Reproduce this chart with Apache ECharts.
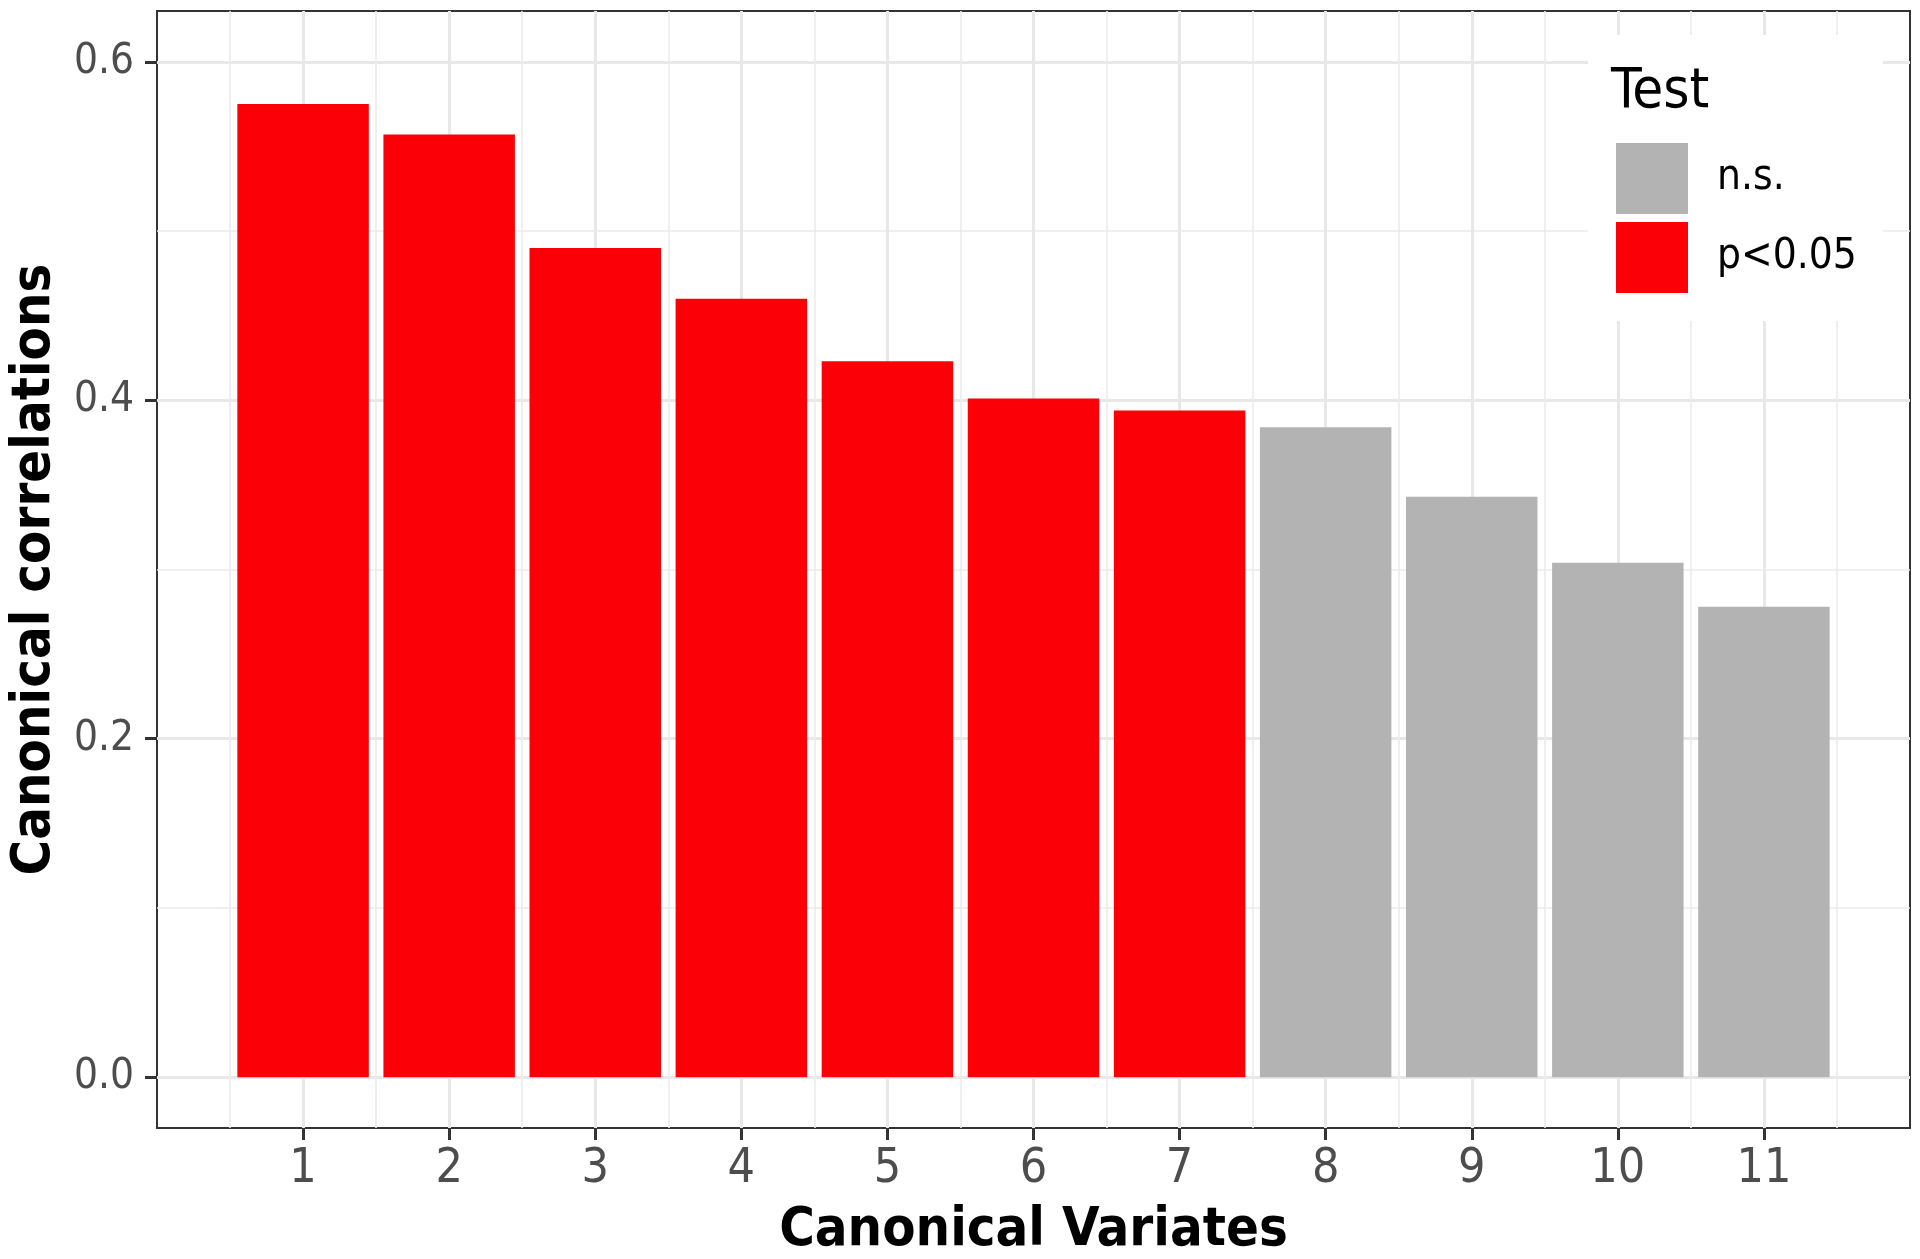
<!DOCTYPE html>
<html>
<head>
<meta charset="utf-8">
<script src="https://cdn.jsdelivr.net/npm/echarts@6/dist/echarts.min.js"></script>
<style>
html,body{margin:0;padding:0;background:#fff;}
#chart{width:1920px;height:1259px;}
</style>
</head>
<body>
<div id="chart"></div>
<script>
// ---- data ----
const variates = [1, 2, 3, 4, 5, 6, 7, 8, 9, 10, 11];
const correlations = [0.575, 0.557, 0.490, 0.460, 0.423, 0.401, 0.394, 0.384, 0.343, 0.304, 0.278];
const testGroup = ['p<0.05', 'p<0.05', 'p<0.05', 'p<0.05', 'p<0.05', 'p<0.05', 'p<0.05', 'n.s.', 'n.s.', 'n.s.', 'n.s.'];
const legendNames = ['n.s.', 'p<0.05'];
const yMajorTicks = [0, 0.2, 0.4, 0.6];
const yMinorTicks = [0.1, 0.3, 0.5];
const xLimits = [0, 12];
const yLimits = [-0.03, 0.63];

const colors = { 'n.s.': '#b3b3b3', 'p<0.05': '#fb0007' };
const xMinorTicks = variates.map(v => v - 0.5).concat([variates[variates.length - 1] + 0.5]);

const FONT = "'DejaVu Sans Condensed', 'DejaVu Sans', sans-serif";

function seriesData(group) {
  const out = [];
  variates.forEach((v, i) => { if (testGroup[i] === group) out.push([v, correlations[i]]); });
  return out;
}

const chart = echarts.init(document.getElementById('chart'), null, { renderer: 'canvas' });

const hiddenAxisBits = {
  axisLine: { show: false, onZero: false },
  axisLabel: { show: false },
};

chart.setOption({
  animation: false,
  backgroundColor: '#ffffff',
  title: {
    text: 'Test',
    left: 1611,
    top: 64,
    padding: 0,
    textStyle: { fontFamily: FONT, fontSize: 56, fontWeight: 'normal', color: '#000', lineHeight: 56 }
  },
  legend: {
    data: legendNames,
    orient: 'vertical',
    left: 1588,
    top: 35,
    padding: [108, 26, 28, 28],
    backgroundColor: '#ffffff',
    itemWidth: 72,
    itemHeight: 71,
    itemGap: 8,
    icon: 'rect',
    selectedMode: false,
    textStyle: { fontFamily: FONT, fontSize: 42, color: '#000', padding: [0, 0, 0, 24] }
  },
  grid: {
    left: 157, right: 10, top: 11, bottom: 131,
    outerBoundsMode: 'none',
    containLabel: false,
    show: true, borderColor: '#333333', borderWidth: 2, backgroundColor: 'transparent'
  },
  xAxis: [
    {
      type: 'value', min: xLimits[0], max: xLimits[1],
      name: 'Canonical Variates', nameLocation: 'middle', nameGap: 76,
      nameTextStyle: { fontFamily: FONT, fontSize: 54, fontWeight: 'bold', color: '#000', lineHeight: 54 },
      axisLine: { show: false, onZero: false },
      axisTick: { show: true, customValues: variates, length: 12, lineStyle: { color: '#333333', width: 3 } },
      axisLabel: { customValues: variates, fontFamily: FONT, fontSize: 48, color: '#4d4d4d', margin: 18, lineHeight: 48 },
      splitLine: { show: true, lineStyle: { color: '#e8e8e8', width: 3 } }
    },
    Object.assign({
      type: 'value', min: xLimits[0], max: xLimits[1], position: 'bottom',
      axisTick: { show: false, customValues: xMinorTicks },
      splitLine: { show: true, lineStyle: { color: '#ebebeb', width: 1.6 } }
    }, hiddenAxisBits)
  ],
  yAxis: [
    {
      type: 'value', min: yLimits[0], max: yLimits[1],
      name: 'Canonical correlations', nameLocation: 'middle', nameGap: 95, nameRotate: 90,
      nameTextStyle: { fontFamily: FONT, fontSize: 54, fontWeight: 'bold', color: '#000', lineHeight: 54 },
      axisLine: { show: false, onZero: false },
      axisTick: { show: true, customValues: yMajorTicks, length: 12, lineStyle: { color: '#333333', width: 3 } },
      axisLabel: { customValues: yMajorTicks, formatter: v => Number(v).toFixed(1), fontFamily: FONT, fontSize: 42, color: '#4d4d4d', margin: 23 },
      splitLine: { show: true, lineStyle: { color: '#e8e8e8', width: 3 } }
    },
    Object.assign({
      type: 'value', min: yLimits[0], max: yLimits[1], position: 'left',
      axisTick: { show: false, customValues: yMinorTicks },
      splitLine: { show: true, lineStyle: { color: '#ebebeb', width: 1.6 } }
    }, hiddenAxisBits)
  ],
  series: legendNames.map(name => ({
    name: name,
    type: 'bar',
    xAxisIndex: 0,
    yAxisIndex: 0,
    barWidth: '90%',
    barGap: '-100%',
    itemStyle: { color: colors[name] },
    data: seriesData(name)
  }))
});
</script>
</body>
</html>
